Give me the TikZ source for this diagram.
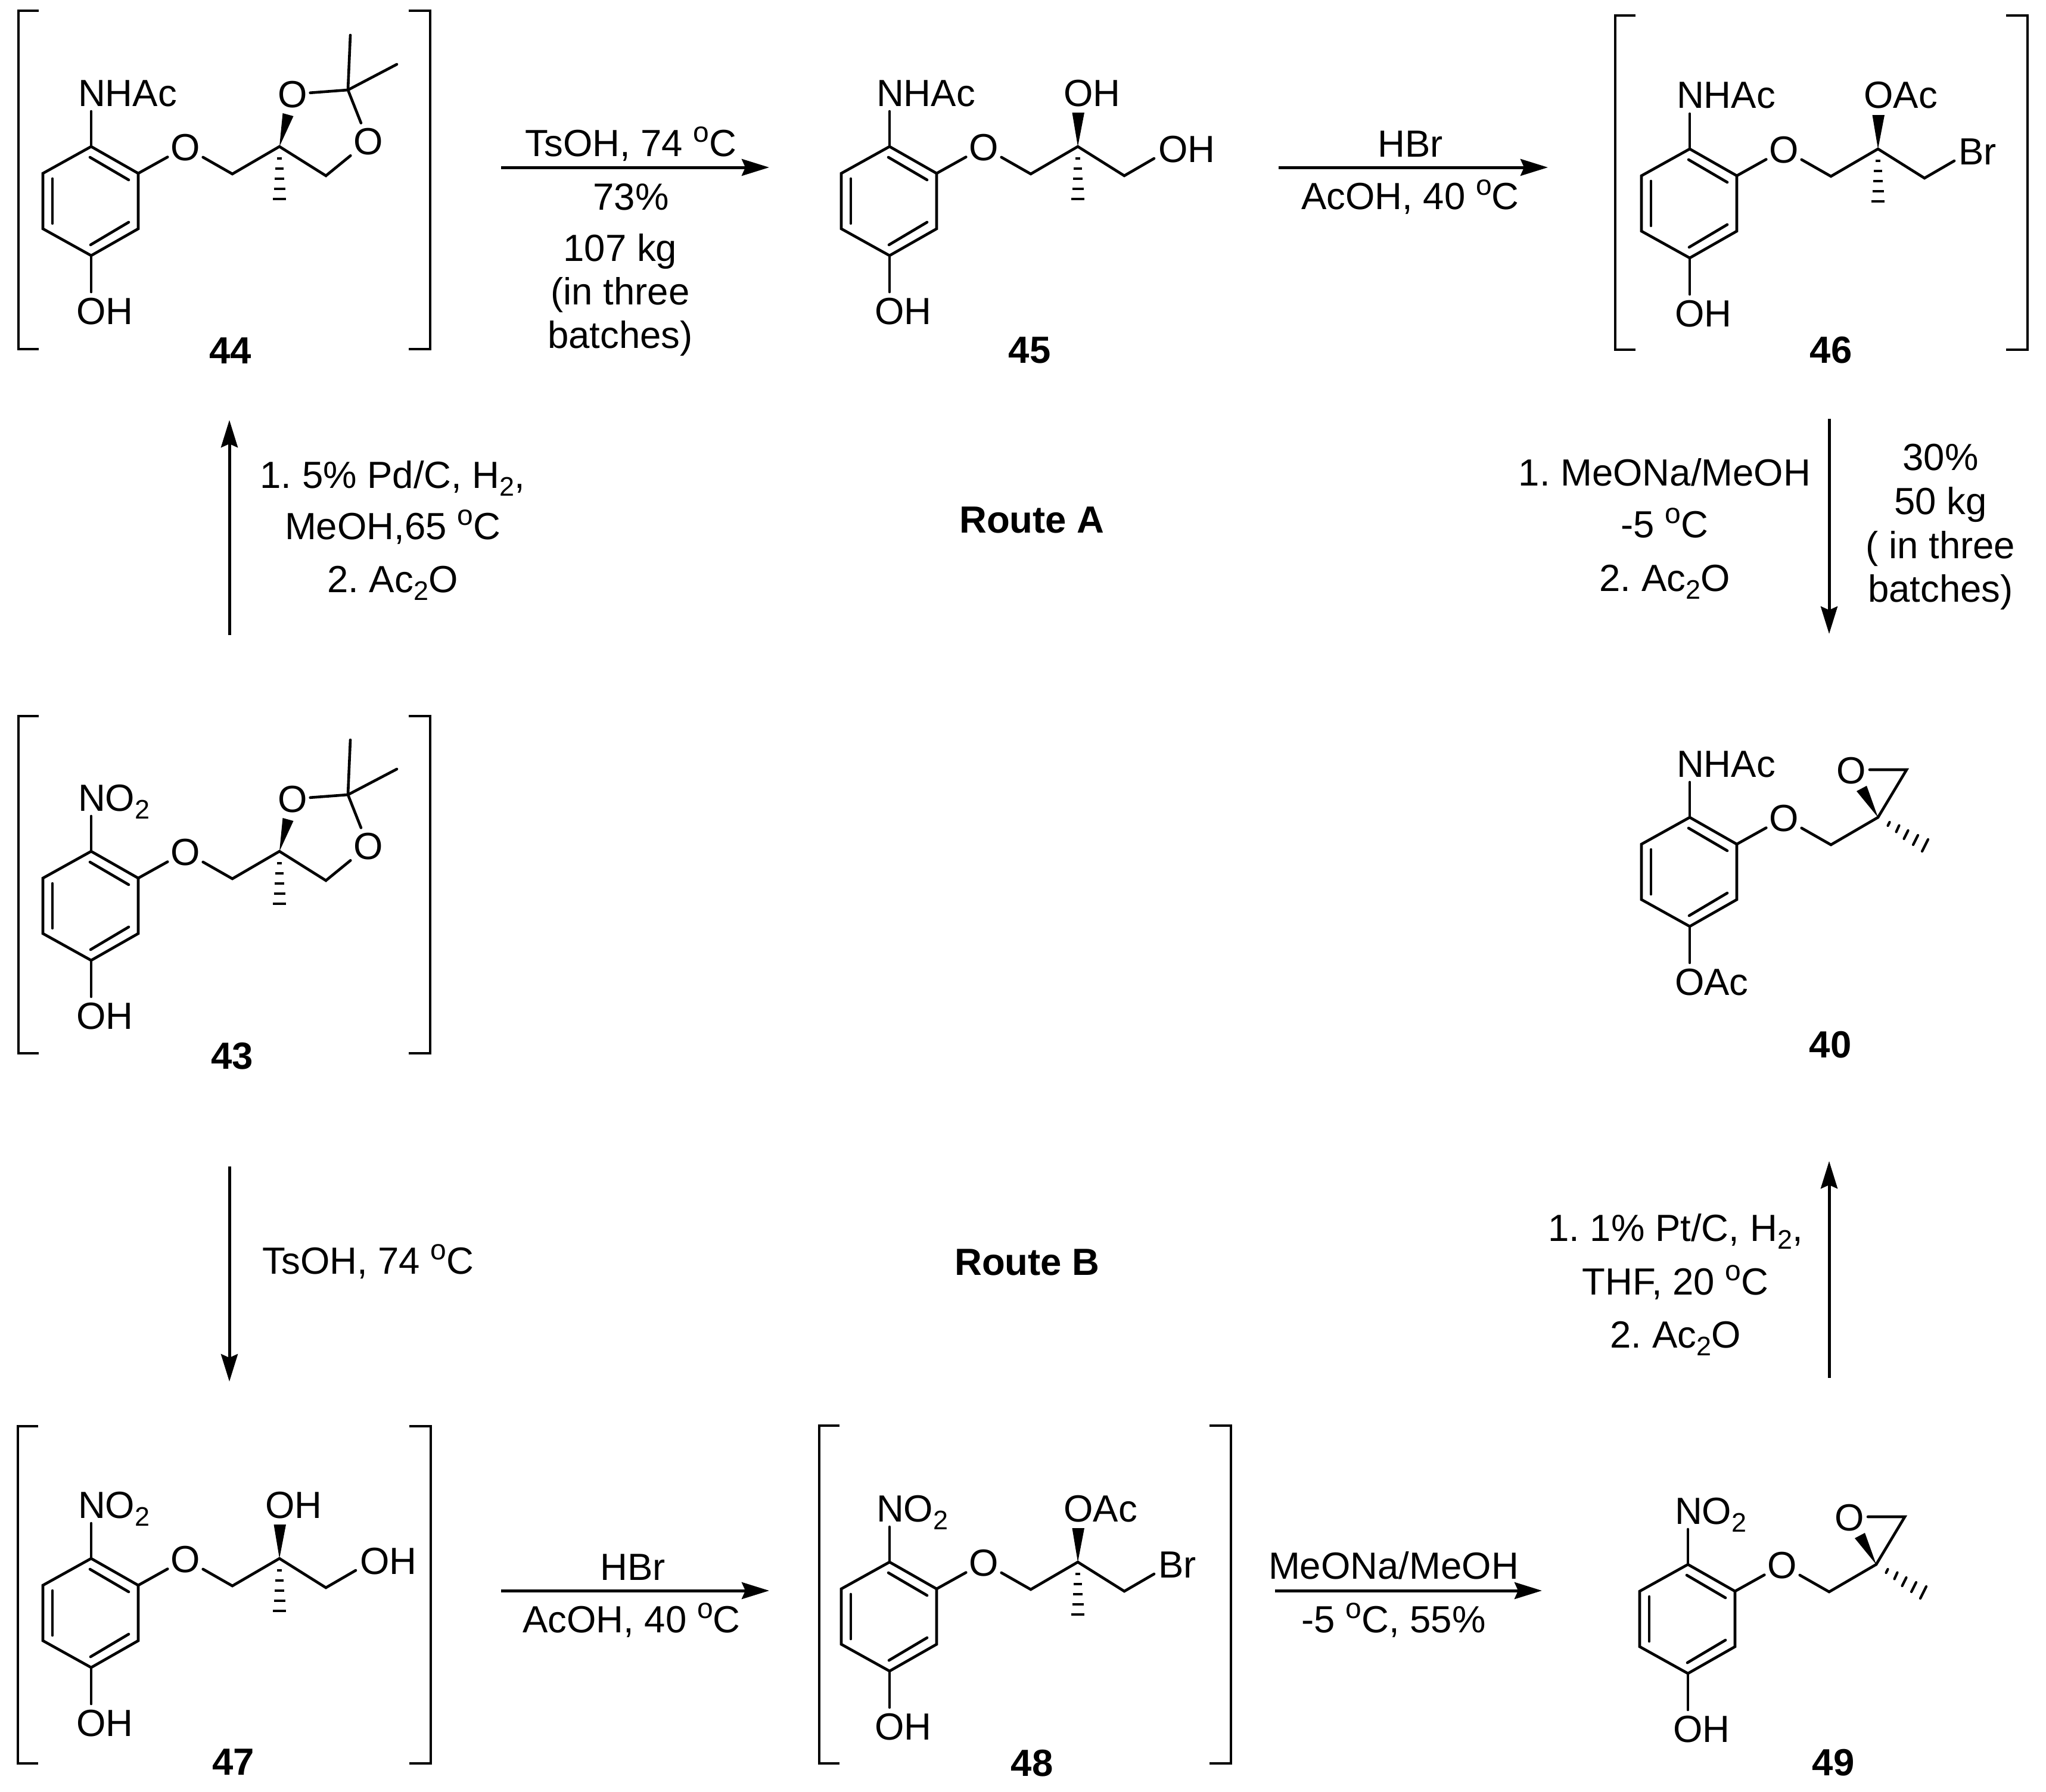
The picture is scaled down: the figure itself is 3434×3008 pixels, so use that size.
\documentclass[tikz,border=0pt]{standalone}
\usepackage{fontspec}
\setmainfont{Liberation Sans}
\usetikzlibrary{arrows.meta}
\newcommand{\dgr}{\raisebox{24pt}{\fontsize{48}{48}\selectfont o}}
\newcommand{\subs}[1]{\raisebox{-13pt}{\fontsize{45}{45}\selectfont #1}}
\tikzset{
  bond/.style={line width=4.6pt,line cap=round,line join=miter,black},
  brk/.style={line width=4.6pt,line cap=butt,line join=miter,black},
  rxn/.style={line width=5pt,black,-{Stealth[length=46pt,width=28pt,inset=6pt]}},
  txt/.style={inner sep=0pt,outer sep=0pt,text height=45pt,text depth=0pt,font=\fontsize{63.5}{70}\selectfont\frenchspacing},
  cmpd/.style={txt,font=\fontsize{63.5}{70}\selectfont\bfseries\frenchspacing},
  atomlab/.style={txt,inner xsep=0pt,inner ysep=9pt,anchor=base west},
  oatom/.style={txt,inner xsep=5pt,inner ysep=8pt}
}
% dashed stereo bond
\newcommand{\hashdown}{%
  \draw[line width=4.6pt] (465,266) -- (473,266);
  \draw[line width=4.6pt] (462,283) -- (476,283);
  \draw[line width=4.6pt] (461,300) -- (477,300);
  \draw[line width=4.6pt] (459.5,317) -- (478.5,317);
  \draw[line width=4.6pt] (458,334) -- (480,334);
}
% ketal
\newcommand{\dioxolane}[1]{%
  \node[oatom] (#1p) at (491,158) {O};
  \node[oatom] (#1q) at (618,237) {O};
  \coordinate (#1k) at (584,151);
  \coordinate (#1e) at (547,295);
  \coordinate (#1m1) at (588,59);
  \coordinate (#1m2) at (666,108);
  \fill (#1d) -- (474.5,190) -- (492.5,195) -- cycle;
  \hashdown
  \draw[bond] (#1d) -- (#1e) -- (#1q) -- (#1k) -- (#1p);
  \draw[bond] (#1k) -- (#1m1);
  \draw[bond] (#1k) -- (#1m2);
}
% open chain: text on the wedge, text at the end of the chain
\newcommand{\chainend}[3]{%
  \node[atomlab] (#1t) at (445.5,178) {#2};
  \node[atomlab] (#1x) at (604,272) {#3};
  \coordinate (#1e) at (547,295);
  \coordinate (#1f) at (597,266);
  \fill (#1d) -- (459.5,189) -- (480,189) -- cycle;
  \hashdown
  \draw[bond] (#1d) -- (#1e) -- (#1f);
}
% epoxide
\newcommand{\epoxide}[1]{%
  \node[oatom] (#1p) at (424,167) {O};
  \coordinate (#1g) at (517,166);
  \coordinate (#1h) at (455,166);
  \fill (#1d) -- (433,202) -- (450,193) -- cycle;
  \draw[bond] (#1h) -- (#1g) -- (#1d);
  \draw[line width=4.2pt,line cap=round] (485.5,260) -- (488.5,254);
  \draw[line width=4.2pt,line cap=round] (499.5,270.5) -- (504.5,259.5);
  \draw[line width=4.2pt,line cap=round] (512.5,282) -- (519.5,268);
  \draw[line width=4.2pt,line cap=round] (528,292) -- (536,276);
  \draw[line width=4.2pt,line cap=round] (543,303) -- (553,283);
}
% aryl ether core: prefix, x, y, top text, bottom text, side chain
\newcommand{\core}[6]{%
  \begin{scope}[shift={(#2,#3)}]
    \coordinate (#1a) at (153,246);
    \coordinate (#1b) at (232,291);
    \coordinate (#1g1) at (232,384);
    \coordinate (#1g2) at (153,429);
    \coordinate (#1g3) at (72,384);
    \coordinate (#1g4) at (72,291);
    \coordinate (#1c) at (390,292);
    \coordinate (#1d) at (469,246);
    \node[atomlab] (#1n) at (131,178) {#4};
    \node[atomlab] (#1s) at (128,544) {#5};
    \node[oatom] (#1o) at (311,247) {O};
    \draw[bond] (#1a) -- (#1b) -- (#1g1) -- (#1g2) -- (#1g3) -- (#1g4) -- cycle;
    \draw[bond] (151,264) -- (216,302);
    \draw[bond] (88,300) -- (88,375);
    \draw[bond] (152,411) -- (216,373);
    \draw[bond] (#1a) -- (#1a |- #1n.south);
    \draw[bond] (#1g2) -- (#1g2 |- #1s.north);
    \draw[bond] (#1b) -- (#1o) -- (#1c) -- (#1d);
    #6
  \end{scope}}
\newcommand{\brackets}[4]{%
  \draw[brk] (#1+34,#3) -- (#1,#3) -- (#1,#4) -- (#1+34,#4);
  \draw[brk] (#2-36,#3) -- (#2,#3) -- (#2,#4) -- (#2-36,#4);
}
\begin{document}
\begin{tikzpicture}[x=1pt,y=-1pt]
\useasboundingbox (0,0) rectangle (3434,3008);
% compounds
\core{mA}{0}{0}{NHAc}{OH}{\dioxolane{mA}}
\brackets{31}{722}{18}{586}
\node[cmpd] (c44) at (387,588) {44};
\core{mB}{1340}{0}{NHAc}{OH}{\chainend{mB}{OH}{OH}}
\node[cmpd] (c45) at (1728,587) {45};
\core{mC}{2683}{4}{NHAc}{OH}{\chainend{mC}{OAc}{Br}}
\brackets{2711}{3403}{26}{587}
\node[cmpd] (c46) at (3073,587) {46};
\core{mD}{0}{1183}{NO\subs{2}}{OH}{\dioxolane{mD}}
\brackets{31}{722}{1202}{1768}
\node[cmpd] (c43) at (390,1772) {43};
\core{mE}{2683}{1126}{NHAc}{OAc}{\epoxide{mE}}
\node[cmpd] (c40) at (3072,1753) {40};
\core{mF}{0}{2370}{NO\subs{2}}{OH}{\chainend{mF}{OH}{OH}}
\brackets{30}{723}{2394}{2960}
\node[cmpd] (c47) at (392,2957) {47};
\core{mG}{1340}{2376}{NO\subs{2}}{OH}{\chainend{mG}{OAc}{Br}}
\brackets{1375}{2066}{2393}{2960}
\node[cmpd] (c48) at (1732,2959) {48};
\core{mH}{2680}{2380}{NO\subs{2}}{OH}{\epoxide{mH}}
\node[cmpd] (c49) at (3077,2958) {49};
% arrow ends
\coordinate (r44) at (841,281);
\coordinate (l45) at (1291,281);
\coordinate (r45) at (2146,281);
\coordinate (l46) at (2598,281);
\coordinate (t43) at (385,1066);
\coordinate (b44) at (385,705);
\coordinate (b46) at (3070,703);
\coordinate (t40) at (3070,1064);
\coordinate (b43) at (385,1958);
\coordinate (t47) at (385,2319);
\coordinate (r47) at (841,2670);
\coordinate (l48) at (1291,2670);
\coordinate (r48) at (2140,2670);
\coordinate (l49) at (2588,2670);
\coordinate (t49) at (3070,2313);
\coordinate (b40) at (3070,1949);
\draw[rxn] (r44) -- (l45);
\draw[rxn] (r45) -- (l46);
\draw[rxn] (t43) -- (b44);
\draw[rxn] (b46) -- (t40);
\draw[rxn] (b43) -- (t47);
\draw[rxn] (r47) -- (l48);
\draw[rxn] (r48) -- (l49);
\draw[rxn] (t49) -- (b40);
% conditions
\node[txt] (a1) at (1059,240) {TsOH, 74 \dgr C};
\node[txt] (a2) at (1059,330) {73\%};
\node[txt] (a3) at (1041,416) {107 kg};
\node[txt] (a4) at (1041,489) {(in three};
\node[txt] (a5) at (1041,562) {batches)};
\node[txt] (b1) at (2367,241) {HBr};
\node[txt] (b2) at (2367,329) {AcOH, 40 \dgr C};
\node[txt] (d1) at (659,797) {1. 5\% Pd/C, H\subs{2},};
\node[txt] (d2) at (659,883) {MeOH,65 \dgr C};
\node[txt] (d3) at (659,972) {2. Ac\subs{2}O};
\node[cmpd] (ra) at (1732,872) {Route A};
\node[cmpd] (rb) at (1724,2118) {Route B};
\node[txt] (e1) at (2794,793) {1. MeONa/MeOH};
\node[txt] (e2) at (2794,880) {-5 \dgr C};
\node[txt] (e3) at (2794,970) {2. Ac\subs{2}O};
\node[txt] (f1) at (3257,767) {30\%};
\node[txt] (f2) at (3257,841) {50 kg};
\node[txt] (f3) at (3257,915) {( in three};
\node[txt] (f4) at (3257,988) {batches)};
\node[txt] (g1) at (618,2116) {TsOH, 74 \dgr C};
\node[txt] (h1) at (2812,2061) {1. 1\% Pt/C, H\subs{2},};
\node[txt] (h2) at (2812,2151) {THF, 20 \dgr C};
\node[txt] (h3) at (2812,2240) {2. Ac\subs{2}O};
\node[txt] (i1) at (1062,2630) {HBr};
\node[txt] (i2) at (1060,2718) {AcOH, 40 \dgr C};
\node[txt] (j1) at (2339,2628) {MeONa/MeOH};
\node[txt] (j2) at (2339,2718) {-5 \dgr C, 55\%};
\end{tikzpicture}
\end{document}
